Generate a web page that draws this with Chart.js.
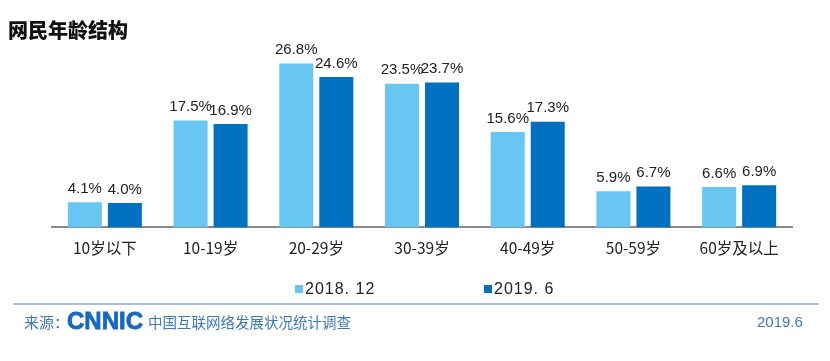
<!DOCTYPE html>
<html><head><meta charset="utf-8">
<script src="https://cdn.jsdelivr.net/npm/chart.js@4.4.0/dist/chart.umd.min.js"></script>
<style>
html,body{margin:0;padding:0;background:#fff;}
#wrap{position:relative;width:830px;height:361px;overflow:hidden;font-family:"Noto Sans CJK SC","Noto Sans",sans-serif;}
#c{position:absolute;left:0;top:0;}
.abs{position:absolute;white-space:nowrap;}
#title{left:8px;top:16px;font-size:20px;font-weight:900;color:#111;font-family:"Noto Sans CJK SC",serif;line-height:28px;}
#legend{left:0;top:280px;width:830px;height:20px;}
.li{position:absolute;top:0;height:18px;font-size:16px;color:#222;font-family:"Liberation Sans Narrow","Liberation Sans",sans-serif;line-height:18px;letter-spacing:1px;white-space:pre;}
.li span.sw{position:absolute;left:0;top:5px;width:8px;height:8px;}
.li span.tx{position:absolute;left:10px;top:0;}
#rule{left:13px;top:303px;width:806px;height:2px;background:#a9c1de;}
#src{left:24px;top:311px;font-size:15px;color:#3b78c2;line-height:22px;}
#logo{left:67px;top:306px;font-family:"Liberation Sans",Arial,sans-serif;font-weight:900;font-size:24px;color:#1668c4;letter-spacing:0px;line-height:30px;-webkit-text-stroke:0.8px #1668c4;}
#survey{left:148px;top:311px;font-size:14.5px;color:#3b78c2;line-height:22px;letter-spacing:0px;}
#date{left:757px;top:311px;font-size:15px;color:#3b78c2;line-height:22px;font-family:"Liberation Sans",sans-serif;}
</style></head>
<body><div id="wrap">
<canvas id="c" width="830" height="361"></canvas>
<div class="abs" id="title">网民年龄结构</div>
<div class="abs" id="legend"></div>
<div class="abs" id="rule"></div>
<div class="abs" id="src">来源：</div>
<div class="abs" id="logo">CNNIC</div>
<div class="abs" id="survey">中国互联网络发展状况统计调查</div>
<div class="abs" id="date">2019.6</div>
</div>
<script>
const categories = ["10岁以下","10-19岁","20-29岁","30-39岁","40-49岁","50-59岁","60岁及以上"];
const seriesNames = ["2018. 12","2019. 6"];
const values2018 = [4.1,17.5,26.8,23.5,15.6,5.9,6.6];
const values2019 = [4.0,16.9,24.6,23.7,17.3,6.7,6.9];
const colors = ["#68C6F3","#0070C0"];

const labelPlugin = {
  id:'vlabels',
  afterDatasetsDraw(chart){
    const ctx = chart.ctx;
    ctx.save();
    ctx.font = '15px "Liberation Sans", Arial, sans-serif';
    ctx.fillStyle = '#222';
    ctx.textAlign = 'center';
    ctx.textBaseline = 'bottom';
    chart.data.datasets.forEach((ds,i)=>{
      chart.getDatasetMeta(i).data.forEach((bar,j)=>{
        ctx.fillText(ds.data[j].toFixed(1)+'%', bar.x, bar.y-6);
      });
    });
    ctx.restore();
  }
};

const chart = new Chart(document.getElementById('c'),{
  type:'bar',
  data:{labels:categories,datasets:[
    {label:seriesNames[0],data:values2018,backgroundColor:colors[0]},
    {label:seriesNames[1],data:values2019,backgroundColor:colors[1]}
  ]},
  options:{
    responsive:false,animation:false,
    devicePixelRatio:1,
    layout:{padding:{left:52,right:38,top:44,bottom:93}},
    categoryPercentage:0.757,barPercentage:0.85,
    plugins:{legend:{display:false},tooltip:{enabled:false}},
    scales:{
      x:{grid:{display:false,drawTicks:false},
         border:{display:true,color:'#8a8a8a',width:2},
         ticks:{padding:11,color:'#222',font:{size:15.5,family:'"Noto Sans CJK SC", sans-serif'}}},
      y:{display:false,min:0,max:30}
    }
  },
  plugins:[labelPlugin]
});

const lg = document.getElementById('legend');
const lx = [295,484];
seriesNames.forEach((n,i)=>{
  const d = document.createElement('div');
  d.className='li'; d.style.left=lx[i]+'px'; d.style.width='80px';
  d.innerHTML = '<span class="sw" style="background:'+colors[i]+'"></span><span class="tx">'+n+'</span>';
  lg.appendChild(d);
});
</script>
</body></html>
